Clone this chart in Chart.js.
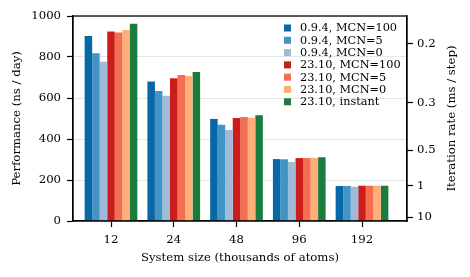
<!DOCTYPE html>
<html>
<head>
<meta charset="utf-8">
<script src="https://cdn.jsdelivr.net/npm/chart.js@4.4.0/dist/chart.umd.min.js"></script>
<style>
html,body{margin:0;padding:0;background:#fff;}
#wrap{width:470px;height:277px;}
</style>
</head>
<body>
<div id="wrap"><canvas id="c" width="470" height="277"></canvas></div>
<script>
const categories = ["12", "24", "48", "96", "192"];
const seriesLabels = ["0.9.4, MCN=100", "0.9.4, MCN=5", "0.9.4, MCN=0", "23.10, MCN=100", "23.10, MCN=5", "23.10, MCN=0", "23.10, instant"];
const v094_mcn100 = [902, 681, 498, 302, 171];
const v094_mcn5   = [818, 634, 470, 301, 171];
const v094_mcn0   = [777, 611, 444, 288, 167];
const v2310_mcn100 = [925, 696, 502, 307, 172];
const v2310_mcn5   = [920, 712, 507, 307, 172];
const v2310_mcn0   = [932, 707, 504, 308, 172];
const v2310_instant = [962, 727, 516, 311, 172];
const leftTicks = [0, 200, 400, 600, 800, 1000];
const rightTickLabels = ["0.2", "0.3", "0.5", "1", "10"];
const rightTickValues = [0.2, 0.3, 0.5, 1, 10]; // ms/step; plotted at 172.8 / value ns/day (2 fs step)
const NS_PER_DAY_FACTOR = 172.8;

const seriesValues = [v094_mcn100, v094_mcn5, v094_mcn0, v2310_mcn100, v2310_mcn5, v2310_mcn0, v2310_instant];
const colors = ["#0867a5", "#4393c4", "#9ebcda", "#cb1d1b", "#f46e50", "#fdae79", "#1a7c3f"];

const FONT = "'DejaVu Serif', serif";
const FS = 11.7;
const LEG_FS = 11.3;

const datasets = seriesValues.map((vals, k) => ({
  label: seriesLabels[k],
  data: vals.map((v, i) => ({x: i, y: v})),
  backgroundColor: colors[k],
  borderWidth: 0,
  categoryPercentage: 0.84,
  barPercentage: 1.0,
  yAxisID: 'y'
}));

const extras = {
  id: 'extras',
  afterDraw(chart) {
    const ctx = chart.ctx;
    const a = chart.chartArea;
    ctx.save();
    // frame
    ctx.strokeStyle = '#000';
    ctx.lineWidth = 1.25;
    ctx.strokeRect(a.left, a.top, a.right - a.left, a.bottom - a.top);
    // legend
    ctx.font = LEG_FS + "px " + FONT;
    ctx.textBaseline = 'middle';
    ctx.textAlign = 'left';
    const lx = a.right - 123, tx = a.right - 107;
    let y = a.top + 12;
    chart.data.datasets.forEach((ds) => {
      ctx.fillStyle = ds.backgroundColor;
      ctx.fillRect(lx, y - 3.5, 7, 7);
      ctx.fillStyle = '#000';
      ctx.fillText(ds.label, tx, y + 0.5);
      y += 12.3;
    });
    // right axis title
    ctx.font = FS + "px " + FONT;
    ctx.translate(a.right + 45, (a.top + a.bottom) / 2);
    ctx.rotate(-Math.PI / 2);
    ctx.textAlign = 'center';
    ctx.fillText("Iteration rate (ms / step)", 0, 0);
    ctx.restore();
  }
};

new Chart(document.getElementById('c'), {
  type: 'bar',
  data: { datasets },
  plugins: [extras],
  options: {
    responsive: false,
    maintainAspectRatio: false,
    animation: false,
    layout: { padding: { top: 16, left: 0, right: 0, bottom: 0 } },
    plugins: { legend: { display: false }, tooltip: { enabled: false } },
    scales: {
      x: {
        type: 'linear',
        offset: false,
        min: -0.6056,
        max: 4.717,
        afterBuildTicks: (s) => { s.ticks = categories.map((c, i) => ({value: i})); },
        afterFit: (s) => { s.height = 56; },
        ticks: {
          callback: (v) => categories[v],
          font: { family: FONT, size: FS },
          color: '#000',
          padding: 6,
          maxRotation: 0,
          autoSkip: false
        },
        grid: { display: true, offset: false, drawOnChartArea: false, drawTicks: true, tickLength: 6, tickColor: '#000', tickWidth: 1.25 },
        border: { display: true, color: '#000', width: 1.25 },
        title: { display: true, text: "System size (thousands of atoms)", font: { family: FONT, size: FS }, color: '#000', padding: { top: 0, bottom: 12 } }
      },
      y: {
        type: 'linear',
        position: 'left',
        min: 0,
        max: 1000,
        afterBuildTicks: (s) => { s.ticks = leftTicks.map(v => ({value: v})); },
        afterFit: (s) => { s.width = 73; },
        ticks: { callback: (v) => String(v), font: { family: FONT, size: FS }, color: '#000', padding: 6 },
        grid: { offset: false, color: '#e6e6e6', lineWidth: 1, drawTicks: true, tickLength: 6, tickColor: '#000', tickWidth: 1.25 },
        border: { display: true, color: '#000', width: 1.25 },
        title: { display: true, text: "Performance (ns / day)", font: { family: FONT, size: FS }, color: '#000', padding: { top: 10, bottom: 0 } }
      },
      y2: {
        type: 'linear',
        position: 'right',
        min: 0,
        max: 1000,
        afterBuildTicks: (s) => { s.ticks = rightTickValues.map(t => ({value: NS_PER_DAY_FACTOR / t})); },
        afterFit: (s) => { s.width = 63; },
        ticks: {
          callback: (v, i) => rightTickLabels[i],
          font: { family: FONT, size: FS }, color: '#000', padding: 4
        },
        grid: { offset: false, drawOnChartArea: false, drawTicks: true, tickLength: 6, tickColor: '#000', tickWidth: 1.25 },
        border: { display: true, color: '#000', width: 1.25 }
      }
    }
  }
});
</script>
</body>
</html>
